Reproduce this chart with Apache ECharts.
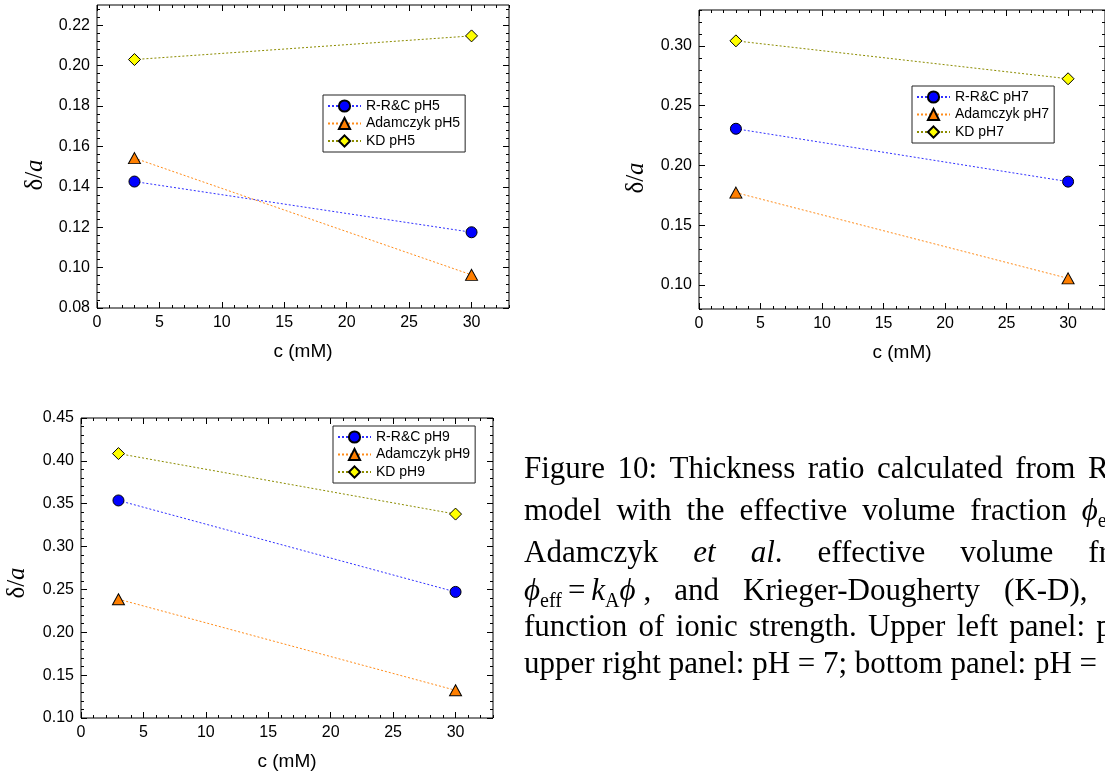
<!DOCTYPE html>
<html><head><meta charset="utf-8">
<script src="https://cdn.jsdelivr.net/npm/echarts@6/dist/echarts.min.js"></script>
<style>html,body{margin:0;padding:0;background:#fff}#c{width:1105px;height:780px}</style>
</head><body><div id="c"></div>
<script>
// ---------------- data ----------------
const concentrations = [3, 30];            // c (mM)
const rrcPH5  = [0.1426, 0.1175];
const adamPH5 = [0.1542, 0.0964];
const kdPH5   = [0.2030, 0.2147];
const rrcPH7  = [0.2307, 0.1865];
const adamPH7 = [0.1773, 0.1056];
const kdPH7   = [0.3042, 0.2725];
const rrcPH9  = [0.3538, 0.2471];
const adamPH9 = [0.2386, 0.1323];
const kdPH9   = [0.4085, 0.3379];
const xTicks    = [0, 5, 10, 15, 20, 25, 30];
const yTicksPH5 = [0.08, 0.10, 0.12, 0.14, 0.16, 0.18, 0.20, 0.22];
const yTicksPH7 = [0.10, 0.15, 0.20, 0.25, 0.30];
const yTicksPH9 = [0.10, 0.15, 0.20, 0.25, 0.30, 0.35, 0.40, 0.45];
const seriesNamesPH5 = ['R-R&C pH5', 'Adamczyk pH5', 'KD pH5'];
const seriesNamesPH7 = ['R-R&C pH7', 'Adamczyk pH7', 'KD pH7'];
const seriesNamesPH9 = ['R-R&C pH9', 'Adamczyk pH9', 'KD pH9'];
const xName = 'c (mM)';

// ---------------- helpers ----------------
function range(a, b, step) {
  const out = []; const n = Math.round((b - a) / step);
  for (let i = 0; i <= n; i++) out.push(+(a + i * step).toFixed(6));
  return out;
}
const SANS = '"Liberation Sans", Arial, sans-serif';
const SERIF = '"Liberation Serif", "Times New Roman", serif';

const styles = [
  { symbol: 'circle',   size: 11,       fill: '#0000ff', line: '#3030ff' },
  { symbol: 'triangle', size: [12, 11], fill: '#ff7f00', line: '#ff8c1a' },
  { symbol: 'diamond',  size: 12,       fill: '#ffff00', line: '#8c8c00' }
];

const panels = [
  { grid: { left: 97, top: 5, width: 412, height: 303 }, yMin: 0.08, yMax: 0.23, yTicks: yTicksPH5, yMinor: 0.004,
    names: seriesNamesPH5, data: [rrcPH5, adamPH5, kdPH5], legend: { left: 323, top: 95 }, yName: { x: 35, y: 175 } },
  { grid: { left: 699, top: 10, width: 408, height: 299 }, yMin: 0.08, yMax: 0.33, yTicks: yTicksPH7, yMinor: 0.01,
    names: seriesNamesPH7, data: [rrcPH7, adamPH7, kdPH7], legend: { left: 912, top: 86 }, yName: { x: 636, y: 178 } },
  { grid: { left: 81, top: 418, width: 412, height: 300 }, yMin: 0.10, yMax: 0.45, yTicks: yTicksPH9, yMinor: 0.01,
    names: seriesNamesPH9, data: [rrcPH9, adamPH9, kdPH9], legend: { left: 333, top: 426 }, yName: { x: 17.5, y: 583 } }
];

const grid = [], xAxis = [], yAxis = [], series = [], legend = [], graphic = [];
const xMin = 0, xMax = 33;
const xMinor = range(0, 33, 1);

panels.forEach((p, pi) => {
  grid.push(Object.assign({ show: true, borderColor: '#000', borderWidth: 1, backgroundColor: 'transparent' }, p.grid));
  grid.push(Object.assign({ show: false }, p.grid));
  const gMain = 2 * pi, gMinor = 2 * pi + 1;
  const tickStyle = { color: '#000', width: 1 };
  const mk = (gi, pos, vals, len, withLabel, extra) => Object.assign({
    type: 'value', gridIndex: gi, position: pos,
    axisLine: { show: false, onZero: false }, splitLine: { show: false },
    axisTick: { show: true, inside: true, length: len, customValues: vals, lineStyle: tickStyle },
    axisLabel: withLabel ? { show: true, customValues: vals, color: '#000', fontFamily: SANS, fontSize: 16, margin: 7,
      formatter: extra.fmt } : { show: false }
  }, extra.opts || {});
  // x axes
  xAxis.push(mk(gMain, 'bottom', xTicks, 6, true, { fmt: v => String(v),
    opts: { min: xMin, max: xMax, name: xName, nameLocation: 'middle', nameGap: 34,
      nameTextStyle: { color: '#000', fontFamily: SANS, fontSize: 19 } } }));
  xAxis.push(mk(gMain, 'top', xTicks, 6, false, { opts: { min: xMin, max: xMax } }));
  xAxis.push(mk(gMinor, 'bottom', xMinor, 3, false, { opts: { min: xMin, max: xMax } }));
  xAxis.push(mk(gMinor, 'top', xMinor, 3, false, { opts: { min: xMin, max: xMax } }));
  // y axes
  const yMinorVals = range(p.yMin, p.yMax, p.yMinor);
  yAxis.push(mk(gMain, 'left', p.yTicks, 6, true, { fmt: v => v.toFixed(2), opts: { min: p.yMin, max: p.yMax } }));
  yAxis.push(mk(gMain, 'right', p.yTicks, 6, false, { opts: { min: p.yMin, max: p.yMax } }));
  yAxis.push(mk(gMinor, 'left', yMinorVals, 3, false, { opts: { min: p.yMin, max: p.yMax } }));
  yAxis.push(mk(gMinor, 'right', yMinorVals, 3, false, { opts: { min: p.yMin, max: p.yMax } }));

  p.names.forEach((nm, si) => {
    const s = styles[si];
    series.push({
      type: 'line', name: nm, xAxisIndex: 4 * pi, yAxisIndex: 4 * pi,
      data: concentrations.map((c, i) => [c, p.data[si][i]]),
      symbol: s.symbol, symbolSize: s.size, showSymbol: true,
      lineStyle: { type: [2, 2], width: 1, color: s.line },
      itemStyle: { color: s.fill, borderColor: '#000', borderWidth: 1 },
      z: 3 + si, animation: false
    });
  });
  legend.push({
    orient: 'vertical', left: p.legend.left, top: p.legend.top,
    data: p.names, itemWidth: 33, itemHeight: 14, itemGap: 3.5,
    padding: [4, 5, 4, 4], borderColor: '#222', borderWidth: 1, borderRadius: 0,
    backgroundColor: '#fff', selectedMode: false,
    textStyle: { color: '#000', fontFamily: SANS, fontSize: 14 }
  });
  graphic.push({
    type: 'text', x: p.yName.x, y: p.yName.y, rotation: Math.PI / 2,
    style: {
      text: '{d|δ}{s|/}{a|a}', align: 'center', verticalAlign: 'middle',
      rich: {
        d: { fontFamily: SERIF, fontSize: 25, fill: '#000', fontStyle: 'normal' },
        s: { fontFamily: SERIF, fontSize: 25, fill: '#000', fontStyle: 'normal' },
        a: { fontFamily: SERIF, fontSize: 25, fill: '#000', fontStyle: 'italic' }
      }
    }
  });
});

// ---------------- caption ----------------
const CAP_SIZE = 31, SUB_SIZE = 20;
const measureCtx = document.createElement('canvas').getContext('2d');
function segFont(st) {
  const size = st === 'sub' ? SUB_SIZE : CAP_SIZE;
  return (st === 'it' ? 'italic ' : '') + size + 'px ' + SERIF;
}
function segWidth(seg) { measureCtx.font = segFont(seg[1]); return measureCtx.measureText(seg[0]).width; }
// each word = list of [text, style]; style: n normal, it italic, sub subscript
const W = t => [[t, 'n']];
const PHI = 'ϕ';
const captionLines = [
  { baseline: 480, gap: 12.5, words: ['Figure', '10:', 'Thickness', 'ratio', 'calculated', 'from', 'R-R&C'].map(W) },
  { baseline: 522, gap: 15, words: ['model', 'with', 'the', 'effective', 'volume', 'fraction'].map(W)
      .concat([[[PHI, 'it'], ['eff', 'sub']], W('='), [[PHI, 'it'], ['(1+δ/', 'n'], ['a', 'it'], [')', 'n']]]) },
  { baseline: 564, gap: 35, words: [W('Adamczyk'), [['et', 'it']], [['al', 'it'], ['.', 'n']], W('effective'), W('volume'), W('fraction')] },
  { baseline: 602, gap: 24, words: [[[PHI, 'it'], ['eff', 'sub']], W('='), [['k', 'it'], ['A', 'sub'], [PHI, 'it']], W(','),
      W('and'), W('Krieger-Dougherty'), W('(K-D),'), W('as'), W('a')], gaps: [6, 6, 8, 23] },
  { baseline: 638, gap: 11.3, words: ['function', 'of', 'ionic', 'strength.', 'Upper', 'left', 'panel:', 'pH', '=', '5;'].map(W) },
  { baseline: 675, gap: 7.75, words: ['upper', 'right', 'panel:', 'pH', '=', '7;', 'bottom', 'panel:', 'pH', '=', '9.'].map(W) }
];
const CAP_LEFT = 524;
captionLines.forEach(line => {
  let x = CAP_LEFT;
  line.words.forEach((word, wi) => {
    word.forEach(seg => {
      const size = seg[1] === 'sub' ? SUB_SIZE : CAP_SIZE;
      const base = line.baseline + (seg[1] === 'sub' ? 6 : 0);
      graphic.push({
        type: 'text', x: x, y: base - 0.3375 * size, silent: true,
        style: { text: seg[0], fontFamily: SERIF, fontSize: size, fontStyle: seg[1] === 'it' ? 'italic' : 'normal',
          fill: '#000', align: 'left', verticalAlign: 'middle' }
      });
      x += segWidth(seg);
    });
    x += (line.gaps && wi < line.gaps.length) ? line.gaps[wi] : line.gap;
  });
});

const chart = echarts.init(document.getElementById('c'), null, { renderer: 'canvas' });
chart.setOption({
  backgroundColor: '#fff', animation: false,
  grid, xAxis, yAxis, series, legend, graphic
});
</script></body></html>
